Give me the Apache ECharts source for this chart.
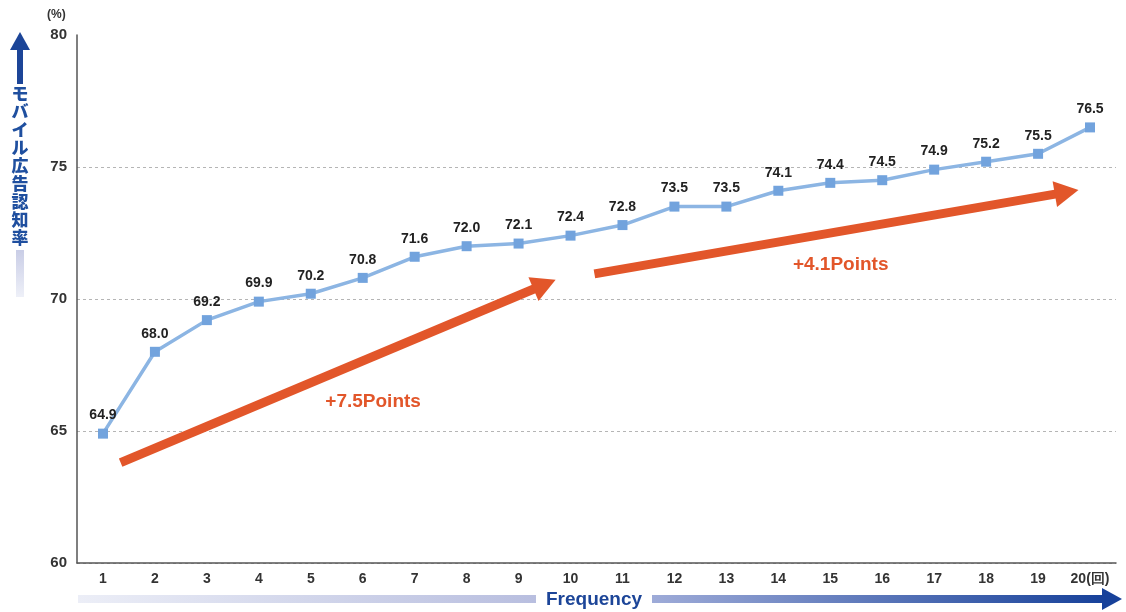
<!DOCTYPE html>
<html>
<head>
<meta charset="utf-8">
<script src="https://cdn.jsdelivr.net/npm/echarts@6/dist/echarts.min.js"></script>
<style>
  html, body { margin: 0; padding: 0; background: #fff; }
  #chart { width: 1126px; height: 612px; }
</style>
</head>
<body>
<div id="chart"></div>
<script>
// Frequency of exposure (times) and mobile ad recognition rate (%)
const frequencies = ['1','2','3','4','5','6','7','8','9','10','11','12','13','14','15','16','17','18','19','20(回)'];
const recognition = [64.9, 68.0, 69.2, 69.9, 70.2, 70.8, 71.6, 72.0, 72.1, 72.4, 72.8, 73.5, 73.5, 74.1, 74.4, 74.5, 74.9, 75.2, 75.5, 76.5];
const yTicks = { min: 60, max: 80, interval: 5 };

// Trend annotations, in (frequency, %) units
const trendEarly = [[1.34, 63.8], [9.5, 70.55]];
const trendLate = [[10.46, 70.95], [19.55, 74.05]];
const trendTexts = [
  { at: [6.2, 66.1], text: '+7.5Points' },
  { at: [15.2, 71.3], text: '+4.1Points' }
];

const ORANGE = '#e2562a';
const NAVY = '#1c4598';
const LINE_BLUE = '#8cb5e3';
const MARK_BLUE = '#72a3dd';
const FONT = '"Liberation Sans", Arial, sans-serif';

const chart = echarts.init(document.getElementById('chart'));

function trendLine(pts) {
  return [{ coord: pts[0] }, { coord: pts[1] }];
}

chart.setOption({
  animation: false,
  grid: { left: 77, right: 10, top: 35, bottom: 49, containLabel: false },
  xAxis: [
    {
      type: 'category',
      data: frequencies,
      boundaryGap: true,
      axisLine: { lineStyle: { color: '#555', width: 1.5 } },
      axisTick: { inside: true, length: 6, lineStyle: { color: '#555', width: 1.2 } },
      axisLabel: { color: '#333', fontFamily: FONT, fontWeight: 'bold', fontSize: 14, margin: 9 },
      splitLine: { show: false }
    },
    {
      type: 'value', min: 0.5, max: 20.5, show: false
    }
  ],
  yAxis: {
    type: 'value',
    min: yTicks.min,
    max: yTicks.max,
    interval: yTicks.interval,
    axisLine: { show: true, lineStyle: { color: '#555', width: 1.5 } },
    axisTick: { show: false },
    axisLabel: { color: '#333', fontFamily: FONT, fontWeight: 'bold', fontSize: 15, margin: 10 },
    splitLine: {
      show: true,
      showMaxLine: false,
      lineStyle: { color: '#b5b5b5', type: [3, 3], width: 1 }
    }
  },
  series: [
    {
      type: 'line',
      xAxisIndex: 1,
      data: [],
      silent: true,
      markLine: {
        silent: true,
        symbol: ['none', 'triangle'],
        symbolSize: [26, 24],
        label: { show: false },
        lineStyle: { color: ORANGE, width: 9, type: 'solid', opacity: 1 },
        data: [trendLine(trendEarly), trendLine(trendLate)]
      }
    },
    {
      type: 'scatter',
      xAxisIndex: 1,
      symbolSize: 0,
      silent: true,
      itemStyle: { opacity: 1 },
      data: trendTexts.map(t => ({ value: t.at, name: t.text })),
      label: {
        show: true,
        position: 'inside',
        formatter: p => p.name,
        color: ORANGE,
        fontFamily: FONT,
        fontWeight: 'bold',
        fontSize: 19
      }
    },
    {
      type: 'line',
      data: recognition,
      symbol: 'rect',
      symbolSize: 10,
      lineStyle: { color: LINE_BLUE, width: 3.5 },
      itemStyle: { color: MARK_BLUE },
      label: {
        show: true,
        position: 'top',
        distance: 6,
        formatter: p => p.value.toFixed(1),
        color: '#222',
        fontFamily: FONT,
        fontWeight: 'bold',
        fontSize: 14
      },
      z: 5
    }
  ],
  graphic: [
    // unit above the value axis
    { type: 'text', left: 47, top: 9, style: { text: '(%)', fill: '#333', font: 'bold 12px ' + FONT } },
    // vertical axis title with arrow
    { type: 'rect', shape: { x: 17, y: 46, width: 6, height: 38 }, style: { fill: NAVY } },
    { type: 'polygon', shape: { points: [[20, 32], [30, 50], [10, 50]] }, style: { fill: NAVY } },
    {
      type: 'text', x: 20, y: 85,
      style: {
        text: 'モ\nバ\nイ\nル\n広\n告\n認\n知\n率',
        fill: '#1f4f9f',
        font: '900 17px "Noto Sans CJK JP", sans-serif',
        lineHeight: 17.9,
        align: 'center',
        verticalAlign: 'top'
      }
    },
    {
      type: 'rect', shape: { x: 16, y: 250, width: 8, height: 47 },
      style: {
        fill: new echarts.graphic.LinearGradient(0, 0, 0, 1, [
          { offset: 0, color: '#c9cde6' }, { offset: 1, color: '#eef0f8' }
        ])
      }
    },
    // horizontal axis title with arrow
    {
      type: 'rect', shape: { x: 78, y: 595, width: 458, height: 8 },
      style: {
        fill: new echarts.graphic.LinearGradient(0, 0, 1, 0, [
          { offset: 0, color: '#eceef7' }, { offset: 1, color: '#b8bedf' }
        ])
      }
    },
    {
      type: 'text', x: 594, y: 600,
      style: { text: 'Frequency', fill: NAVY, font: 'bold 19px ' + FONT, align: 'center', verticalAlign: 'middle' }
    },
    {
      type: 'rect', shape: { x: 652, y: 595, width: 452, height: 8 },
      style: {
        fill: new echarts.graphic.LinearGradient(0, 0, 1, 0, [
          { offset: 0, color: '#9eabd8' }, { offset: 1, color: '#17419a' }
        ])
      }
    },
    { type: 'polygon', shape: { points: [[1102, 588], [1122, 599], [1102, 610]] }, style: { fill: '#17419a' } }
  ]
});
</script>
</body>
</html>
